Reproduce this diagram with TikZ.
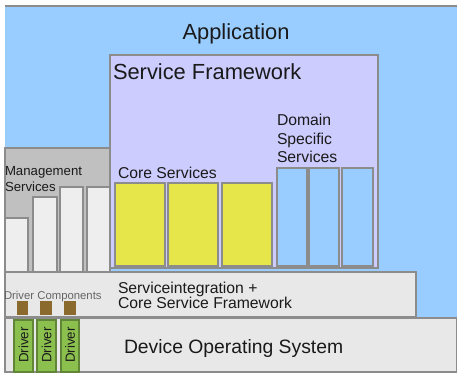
\documentclass[tikz,border=0pt]{standalone}
\usepackage{fontspec}
\setmainfont{Liberation Sans}
\definecolor{appblue}{HTML}{99CCFF}
\definecolor{sflav}{HTML}{CCCCFF}
\definecolor{mgray}{HTML}{C0C0C0}
\definecolor{lgray}{HTML}{E8E8E8}
\definecolor{bargray}{HTML}{EEEEEE}
\definecolor{cyell}{HTML}{E6E64A}
\definecolor{dgreen}{HTML}{8BC04E}
\definecolor{dbrown}{HTML}{8B6A2E}
\definecolor{edge}{HTML}{8C8C8C}
\definecolor{txt}{HTML}{1A1A1A}
\tikzset{
  box/.style={draw=edge, line width=1.5},
  lbl/.style={inner sep=0pt, outer sep=0pt, text=txt, anchor=base west, align=left},
}
\begin{document}
\begin{tikzpicture}[x=0.75pt,y=-0.75pt]
\useasboundingbox[fill=white] (0,0) rectangle (457,374);
% Application
\fill[appblue] (5,6) rectangle (457,318);
\draw[edge,line width=1.5] (5,6) -- (457,6);
\node[inner sep=0pt, text=txt, anchor=base, font=\fontsize{16.4}{19}\selectfont] (app) at (236,40) {Application};
% Management services
\draw[box, fill=mgray] (5,148) rectangle (110,272);
\draw[box, fill=bargray] (5,218) rectangle (28,272);
\draw[box, fill=bargray] (33,197) rectangle (57,272);
\draw[box, fill=bargray] (60,187) rectangle (83,272);
\draw[box, fill=bargray] (87,187) rectangle (110,272);
\node[lbl, font=\fontsize{9.9}{12}\selectfont] (mgmt) at (5,175.5) {Management};
\node[lbl, font=\fontsize{9.9}{12}\selectfont] (mgmt2) at (5,191.5) {Services};
% Service framework
\draw[box, fill=sflav] (110,55) rectangle (378,268);
\node[lbl, font=\fontsize{16.4}{19}\selectfont] (sf) at (113,80) {Service Framework};
\node[lbl, font=\fontsize{11.8}{14}\selectfont] (core) at (118,179) {Core Services};
\node[lbl, font=\fontsize{11.8}{14}\selectfont] (dom1) at (277,126) {Domain};
\node[lbl, font=\fontsize{11.8}{14}\selectfont] (dom2) at (277,144.5) {Specific};
\node[lbl, font=\fontsize{11.8}{14}\selectfont] (dom3) at (277,163) {Services};
\draw[box, fill=cyell] (115,183) rectangle (165,266);
\draw[box, fill=cyell] (168,183) rectangle (218,266);
\draw[box, fill=cyell] (222,183) rectangle (272,266);
\draw[box, fill=appblue] (277,168) rectangle (307,266);
\draw[box, fill=appblue] (309,168) rectangle (339,266);
\draw[box, fill=appblue] (342,168) rectangle (373,266);
% Serviceintegration
\draw[box, fill=lgray] (5,272) rectangle (416,317);
\node[lbl, font=\fontsize{11.8}{14}\selectfont] (si1) at (118,293) {Serviceintegration +};
\node[lbl, font=\fontsize{11.8}{14}\selectfont] (si2) at (118,308.5) {Core Service Framework};
\node[lbl, text=black!60, font=\fontsize{8.5}{10}\selectfont] (dc) at (4,299) {Driver Components};
\fill[dbrown] (17,301) rectangle (28,315);
\fill[dbrown] (40,301) rectangle (52,315);
\fill[dbrown] (64,301) rectangle (76,315);
% Device OS
\draw[box, fill=lgray] (5,318) rectangle (457,372);
\node[lbl, font=\fontsize{14.5}{17}\selectfont] (dos) at (124,353) {Device Operating System};
\foreach \xa/\xb/\n in {14/33/1, 37/56/2, 61/79/3}{
  \draw[draw=dgreen!70!black, line width=1, fill=dgreen] (\xa,320) rectangle (\xb,372);
  \node[inner sep=0pt, rotate=90, text=txt, font=\fontsize{10}{12}\selectfont] (drv\n) at ({(\xa+\xb)/2},345) {Driver};
}
\end{tikzpicture}
\end{document}
